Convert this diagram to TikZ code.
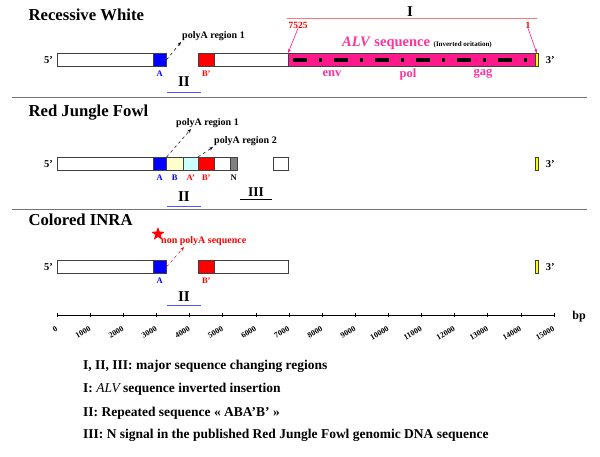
\documentclass[tikz,border=0pt]{standalone}
\usepackage{fontspec}
\setmainfont{Liberation Serif}
\usetikzlibrary{shapes.geometric,arrows.meta,positioning}
\definecolor{segblue}{HTML}{0000FF}
\definecolor{segred}{HTML}{FF0000}
\definecolor{segcream}{HTML}{FFFFCC}
\definecolor{segcyan}{HTML}{CCFFFF}
\definecolor{seggray}{HTML}{808080}
\definecolor{segyellow}{HTML}{FFFF00}
\definecolor{alvpink}{HTML}{FF1A8C}
\definecolor{alvtext}{HTML}{FF3399}
\definecolor{spanred}{HTML}{FF7777}
\definecolor{ulblue}{HTML}{5555EE}
\newcommand{\fs}[1]{\fontsize{#1}{#1}\selectfont\bfseries}

\begin{document}
\begin{tikzpicture}[x=1pt, y=-1pt,
    seg/.style    = {draw=black!75, line width=0.6pt, inner sep=0pt,
                     anchor=north west, minimum height=13pt},
    title/.style  = {anchor=west, font=\fs{16.7}},
    roman/.style  = {inner sep=0pt, font=\fs{15}},
    blk/.style    = {inner sep=0pt, font=\fs{8.5}},
    prime/.style  = {inner sep=0pt, font=\fs{10.5}},
    gene/.style   = {inner sep=0pt, text=alvtext, font=\fs{12.5}},
    note/.style   = {inner sep=1pt, font=\fs{10}},
    tick/.style   = {inner sep=0pt, anchor=east, rotate=30, font=\fs{8}},
    legend/.style = {anchor=west, inner sep=0pt, font=\fs{13.5}},
    polya/.style  = {-{Stealth[length=4pt,width=3pt]}, dashed, line width=0.5pt},
    under/.style  = {line width=0.8pt, ulblue},
    sep/.style    = {line width=0.9pt, black!55},
]
  \useasboundingbox (0,0) rectangle (600,456);

  % Recessive White
  \node[title] (tRW) at (25,15) {Recessive White};
  \node[seg, minimum width=96pt] (w1a) at (57,53) {};
  \node[seg, fill=segblue, minimum width=13pt] (a1) at (153,53) {};
  \node[seg, fill=segred, minimum width=16pt] (bp1) at (198,53) {};
  \node[seg, minimum width=74pt] (w1b) at (214,53) {};
  \node[seg, fill=alvpink, minimum width=247pt] (alv) at (288,53) {};
  \node[seg, fill=segyellow, minimum width=3pt] (y1) at (535,53) {};
  \draw[line width=3.5pt, dash pattern=on 14pt off 12pt on 3pt off 12pt]
    ([xshift=5pt]alv.west) -- ([xshift=-6pt]alv.east);
  \node[prime, left=4pt of w1a] (p5a) {5’};
  \node[prime, right=7pt of y1] (p3a) {3’};
  \node[blk, text=segblue, below=4pt of a1] (la1) {A};
  \node[blk, text=segred, below=4pt of bp1] (lbp1) {B’};

  \node[roman] (rI) at (410,12) {I};
  \draw[spanred, line width=0.8pt] (287,18) -- (537,18);
  \node[blk, text=segred, font=\fs{9.5}] (n7525) at (298,25) {7525};
  \node[blk, text=segred, font=\fs{9.5}] (n1) at (528,25) {1};
  \draw[-{Stealth[length=4pt]}, alvpink, line width=0.6pt] (n7525.south) -- (alv.north west);
  \draw[-{Stealth[length=4pt]}, alvpink, line width=0.6pt] (n1.south) -- (y1.north);
  \node[inner sep=0pt, text=alvtext] (alvtxt) at (417,43)
    {\fs{14.5}\textit{ALV} sequence {\fs{7}\color{black}(Inverted oritation)}};
  \node[gene] (env) at (332,74) {env};
  \node[gene] (pol) at (408,74) {pol};
  \node[gene] (gag) at (483,74) {gag};

  \node[note, anchor=south west] (pr1) at (181,42) {polyA region 1};
  \draw[polya] (a1.east) -- (pr1.south west);
  \node[roman] (ii1) at (184,82) {II};
  \draw[under] (167,92) -- (201,92);

  \draw[sep] (12,97) -- (587,97);

  % Red Jungle Fowl
  \node[title] (tRJF) at (25,113) {Red Jungle Fowl};
  \node[seg, minimum width=96pt] (w2a) at (57,157) {};
  \node[seg, fill=segblue, minimum width=13pt] (a2) at (153,157) {};
  \node[seg, fill=segcream, minimum width=17pt] (b2) at (166,157) {};
  \node[seg, fill=segcyan, minimum width=15pt] (ap2) at (183,157) {};
  \node[seg, fill=segred, minimum width=16pt] (bp2) at (198,157) {};
  \node[seg, minimum width=16pt] (w2b) at (214,157) {};
  \node[seg, fill=seggray, minimum width=7pt] (n2) at (230,157) {};
  \node[seg, minimum width=15pt] (w2c) at (273,157) {};
  \node[seg, fill=segyellow, minimum width=3pt] (y2) at (535,157) {};
  \node[prime, left=4pt of w2a] (p5b) {5’};
  \node[prime, right=7pt of y2] (p3b) {3’};
  \node[blk, text=segblue, below=4pt of a2] (la2) {A};
  \node[blk, text=segblue, below=4pt of b2] (lb2) {B};
  \node[blk, text=segred, below=4pt of ap2] (lap2) {A’};
  \node[blk, text=segred, below=4pt of bp2] (lbp2) {B’};
  \node[blk, below=4pt of n2] (ln2) {N};

  \node[note, anchor=south west] (pr21) at (175,129) {polyA region 1};
  \draw[polya] (a2.north east) -- ([xshift=16pt]pr21.south west);
  \node[note, anchor=south west] (pr22) at (213,147) {polyA region 2};
  \draw[polya] (bp2.north west) -- (pr22.south west);
  \node[roman] (ii2) at (184,197) {II};
  \draw[under] (167,206) -- (201,206);
  \node[roman, font=\fs{13.5}] (iii2) at (256,192) {III};
  \draw[line width=0.8pt] (240,199) -- (272,199);

  \draw[sep] (12,209) -- (587,209);

  % Colored INRA
  \node[title] (tCI) at (25,220) {Colored INRA};
  \node[seg, minimum width=96pt] (w3a) at (57,260) {};
  \node[seg, fill=segblue, minimum width=13pt] (a3) at (153,260) {};
  \node[seg, fill=segred, minimum width=16pt] (bp3) at (198,260) {};
  \node[seg, minimum width=74pt] (w3b) at (214,260) {};
  \node[seg, fill=segyellow, minimum width=3pt] (y3) at (535,260) {};
  \node[prime, left=4pt of w3a] (p5c) {5’};
  \node[prime, right=7pt of y3] (p3c) {3’};
  \node[blk, text=segblue, below=4pt of a3] (la3) {A};
  \node[blk, text=segred, below=4pt of bp3] (lbp3) {B’};

  \node[star, star points=5, star point ratio=2.4, fill=segred,
        inner sep=0pt, minimum size=14pt] (mark) at (158,234) {};
  \node[note, text=segred, anchor=south west] (npa) at (160,247) {non polyA sequence};
  \draw[polya, segred] (a3.east) -- ([xshift=24pt]npa.south west);
  \node[roman] (ii3) at (184,297) {II};
  \draw[under] (167,305) -- (201,305);

  % scale
  \draw[line width=0.9pt] (57,315) -- (554,315);
  \foreach \k in {0,...,15} {
    \draw[line width=0.5pt] (57+33.13*\k,313) -- (57+33.13*\k,317);
    \pgfmathtruncatemacro{\bpval}{1000*\k}
    \node[tick] (tk\k) at (57+33.13*\k,328) {\bpval};
  }
  \node[inner sep=0pt, font=\fs{12}] (bpu) at (579,317) {bp};

  % legend
  \node[legend] (lg1) at (83,366) {I, II, III: major sequence changing regions};
  \node[legend] (lg2) at (83,389) {I: {\mdseries\itshape ALV} sequence inverted insertion};
  \node[legend] (lg3) at (83,413) {II: Repeated sequence « ABA’B’ »};
  \node[legend] (lg4) at (83,435) {III: N signal in the published Red Jungle Fowl genomic DNA sequence};
\end{tikzpicture}
\end{document}
